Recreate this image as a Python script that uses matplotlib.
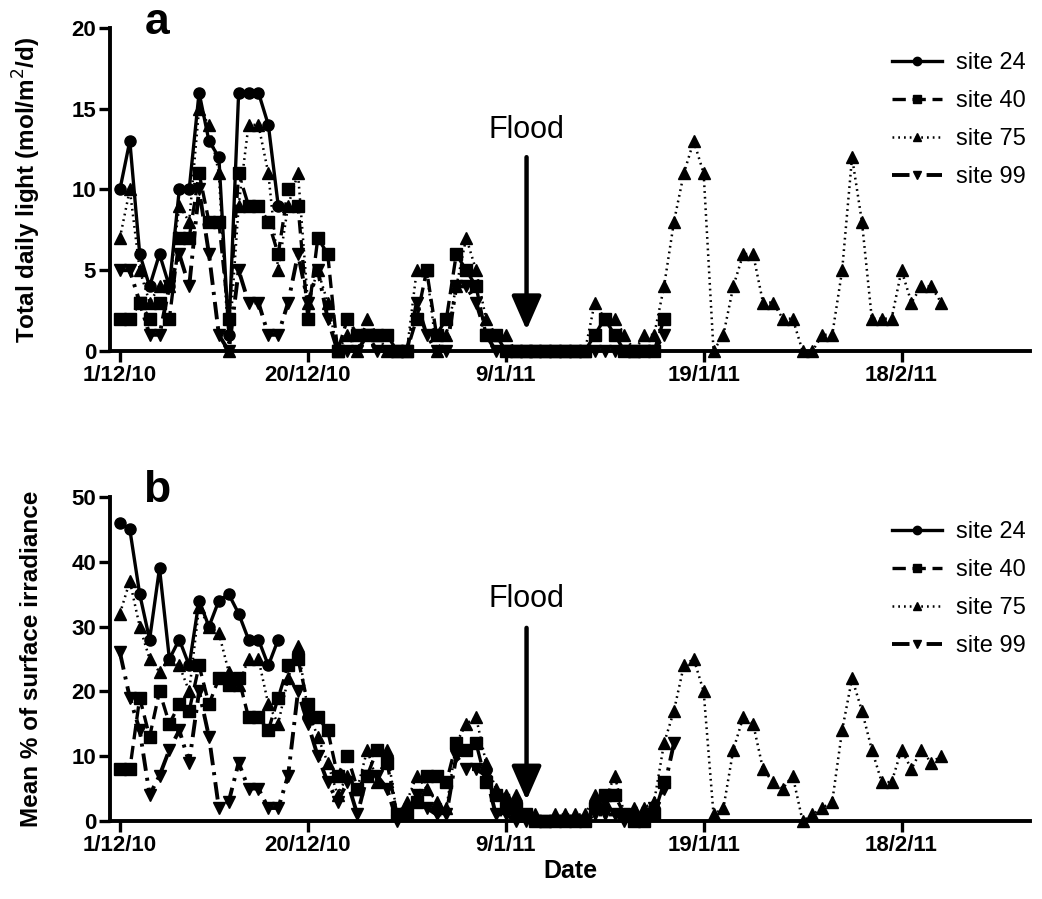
import numpy as np
import matplotlib.pyplot as plt

plt.rcParams['font.family'] = ['Liberation Sans', 'DejaVu Sans']

# x positions are days counted from 1/12/10
tick_days = [0, 19, 39, 59, 79]
tick_labels = ['1/12/10', '20/12/10', '9/1/11', '19/1/11', '18/2/11']
site_names = ['site 24', 'site 40', 'site 75', 'site 99']
flood_day = 41.1

# total daily light (mol/m2/d)
light_24 = [10, 13, 6, 4, 6, 4, 10, 10, 16, 13, 12, 1, 16, 16, 16, 14, 9]
light_40 = [2, 2, 3, 2, 3, 2, 7, 7, 11, 8,
            8, 2, 11, 9, 9, 8, 6, 10, 9, 2,
            7, 6, 0, 2, 1, 1, 1, 1, 0, 0,
            2, 5, 1, 2, 6, 5, 4, 1, 1, 0,
            0, 0, 0, 0, 0, 0, 0, 0, 1, 2,
            1, 0, 0, 0, 0, 2]
light_75 = [7, 10, 5, 3, 4, 4, 9, 8, 15, 14,
            11, 0, 9, 14, 14, 11, 5, 9, 11, 3,
            5, 3, 0, 1, 0, 2, 1, 0, 0, 0,
            5, 5, 0, 1, 4, 7, 5, 2, 1, 1,
            0, 0, 0, 0, 0, 0, 0, 0, 3, 2,
            2, 1, 0, 1, 1, 4, 8, 11, 13, 11,
            0, 1, 4, 6, 6, 3, 3, 2, 2, 0,
            0, 1, 1, 5, 12, 8, 2, 2, 2, 5,
            3, 4, 4, 3]
light_99 = [5, 5, 3, 1, 1, 4, 6, 4, 10, 6,
            1, 0, 5, 3, 3, 1, 1, 3, 6, 3,
            5, 2, 0, 0, 0, 1, 0, 0, 0, 0,
            3, 1, 0, 0, 4, 4, 3, 1, 0, 0,
            0, 0, 0, 0, 0, 0, 0, 0, 0, 0,
            0, 0, 0, 0, 0, 1]

# mean % of surface irradiance
irr_24 = [46, 45, 35, 28, 39, 25, 28, 24, 34, 30, 34, 35, 32, 28, 28, 24, 28]
irr_40 = [8, 8, 19, 13, 20, 15, 18, 17, 24, 18,
          22, 21, 22, 16, 16, 14, 19, 24, 25, 18,
          16, 14, 7, 10, 5, 7, 11, 9, 1, 1,
          3, 7, 7, 6, 12, 11, 12, 6, 4, 2,
          2, 1, 0, 0, 0, 0, 0, 0, 2, 4,
          4, 1, 0, 0, 1, 6]
irr_75 = [32, 37, 30, 25, 23, 25, 24, 20, 33, 30,
          29, 23, 21, 25, 25, 18, 15, 22, 27, 17,
          13, 9, 4, 7, 5, 11, 6, 11, 1, 3,
          7, 5, 3, 2, 12, 15, 16, 9, 5, 4,
          4, 1, 1, 0, 1, 1, 1, 1, 4, 3,
          7, 1, 2, 2, 3, 12, 17, 24, 25, 20,
          1, 2, 11, 16, 15, 8, 6, 5, 7, 0,
          1, 2, 3, 14, 22, 17, 11, 6, 6, 11,
          8, 11, 9, 10]
irr_99 = [26, 19, 14, 4, 7, 11, 14, 9, 20, 13,
          2, 3, 9, 5, 5, 2, 2, 7, 20, 15,
          10, 6, 3, 6, 1, 7, 7, 5, 0, 1,
          4, 2, 1, 1, 10, 8, 8, 7, 1, 1,
          0, 0, 0, 0, 0, 0, 0, 0, 1, 1,
          1, 0, 0, 0, 2, 5, 12]

styles = [
    dict(lw=2.4, ls='-', marker='o', ms=8),
    dict(lw=2.4, ls=(0, (4, 2)), marker='s', ms=8),
    dict(lw=1.8, ls=(0, (0.7, 1.6)), marker='^', ms=8),
    dict(lw=2.8, ls=(0, (4.5, 1.8, 0.8, 1.8)), marker='v', ms=8),
]


def draw_panel(ax, series, ymax, ystep, ylabel, arrow_top, arrow_tip, text_y):
    for values, style, name in zip(series, styles, site_names):
        x = np.arange(len(values))
        ax.plot(x, values, color='black', label=name, clip_on=False, **style)

    ax.set_xlim(-1, 92)
    ax.set_ylim(0, ymax)
    ax.set_yticks(np.arange(0, ymax + 1, ystep))
    ax.set_xticks(tick_days)
    ax.set_xticklabels(tick_labels)
    for side in ['top', 'right']:
        ax.spines[side].set_visible(False)
    for side in ['left', 'bottom']:
        ax.spines[side].set_linewidth(2.8)
    ax.tick_params(axis='both', width=2.4, length=8, labelsize=16, pad=2)
    for lbl in ax.get_xticklabels() + ax.get_yticklabels():
        lbl.set_fontweight('bold')
    ax.set_ylabel(ylabel, fontsize=17.5, fontweight='bold')
    ax.yaxis.set_label_coords(-0.073, 0.5)

    ax.annotate('', xy=(flood_day, arrow_tip), xytext=(flood_day, arrow_top),
                arrowprops=dict(arrowstyle='-|>,head_length=0.8,head_width=0.35',
                                lw=3.2, color='black', mutation_scale=26,
                                shrinkA=0, shrinkB=0))
    ax.text(flood_day, text_y, 'Flood', ha='center', va='center', fontsize=22)

    ax.legend(loc='upper left', bbox_to_anchor=(0.84, 0.955), frameon=False,
              fontsize=17, handlelength=2.1, labelspacing=0.68,
              handletextpad=0.6, markerscale=0.75, borderaxespad=0)


fig = plt.figure(figsize=(10.42, 8.99), dpi=100)
ax_a = fig.add_axes([0.1056, 0.6096, 0.883, 0.3593])
ax_b = fig.add_axes([0.1056, 0.0868, 0.883, 0.3604])

draw_panel(ax_a, [light_24, light_40, light_75, light_99], 20, 5,
           'Total daily light (mol/m$^2$/d)', 12.0, 1.3, 13.7)
draw_panel(ax_b, [irr_24, irr_40, irr_75, irr_99], 50, 10,
           'Mean % of surface irradiance', 29.8, 3.2, 34.2)
ax_b.set_xlabel('Date', fontsize=18, fontweight='bold')
ax_b.xaxis.set_label_coords(0.5, -0.118)

fig.text(157 / 1042, 1 - 22 / 899, 'a', fontsize=32, fontweight='bold',
         ha='center', va='center')
fig.text(157 / 1042, 1 - 490 / 899, 'b', fontsize=32, fontweight='bold',
         ha='center', va='center')

fig.savefig('out.png', dpi=100)
